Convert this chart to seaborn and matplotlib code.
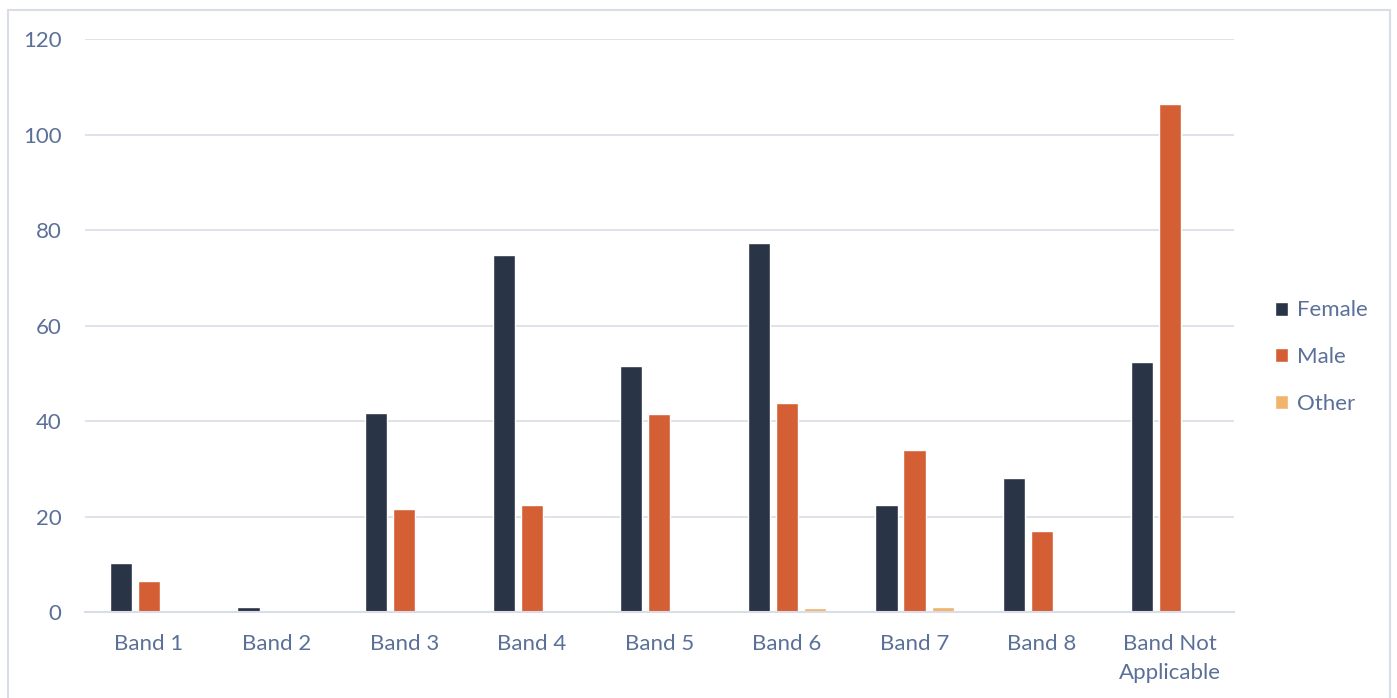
import numpy as np
import pandas as pd
import matplotlib.pyplot as plt
import seaborn as sns
from matplotlib.patches import Rectangle

bands = ['Band 1', 'Band 2', 'Band 3', 'Band 4', 'Band 5', 'Band 6', 'Band 7', 'Band 8', 'Band Not\nApplicable']
female = [10.3, 1.1, 41.7, 74.8, 51.5, 77.3, 22.4, 28.1, 52.4]
male = [6.5, 0.1, 21.6, 22.4, 41.5, 43.8, 33.9, 17.0, 106.4]
other = [0.0, 0.0, 0.2, 0.1, 0.5, 0.8, 1.0, 0.0, 0.2]
genders = ['Female', 'Male', 'Other']
colors = ['#2A3447', '#D55F35', '#F0B46C']

df = pd.DataFrame({'Band': bands * 3,
                   'Gender': np.repeat(genders, len(bands)),
                   'Value': female + male + other})

txt = '#5B7099'
grid = '#D9DDE8'

sns.set_style('white')
plt.rcParams['font.family'] = ['Lato', 'DejaVu Sans']

fig = plt.figure(figsize=(13.97, 6.98), dpi=100)
ax = fig.add_axes([0.061, 0.123, 0.822, 0.821])

sns.barplot(data=df, x='Band', y='Value', hue='Gender', palette=colors,
            width=0.66, gap=0.21, ax=ax, saturation=1)

ax.set_ylim(0, 120)
ax.set_yticks(range(0, 121, 20))
ax.yaxis.grid(True, color=grid, linewidth=1.2)
ax.set_axisbelow(True)
for s in ['top', 'right', 'left']:
    ax.spines[s].set_visible(False)
ax.spines['bottom'].set_color(grid)
ax.spines['bottom'].set_linewidth(1.5)
ax.set_xlabel('')
ax.set_ylabel('')
ax.tick_params(axis='both', length=0, labelsize=16, labelcolor=txt)
ax.tick_params(axis='y', pad=17)
ax.tick_params(axis='x', pad=16)
for lab in ax.get_xticklabels():
    lab.set_linespacing(1.55)

leg = ax.legend(loc='center left', bbox_to_anchor=(1.036, 0.445), frameon=False,
                borderaxespad=0, borderpad=0,
                fontsize=16, handlelength=0.6, handleheight=0.6,
                handletextpad=0.4, labelspacing=1.2)
for t in leg.get_texts():
    t.set_color(txt)

fig.patches.append(Rectangle((8 / 1397, -0.01), 1382 / 1397, 1 - 10 / 698 + 0.01,
                             transform=fig.transFigure, fill=False,
                             edgecolor=grid, linewidth=1.5))

fig.savefig('out.png', dpi=100)
